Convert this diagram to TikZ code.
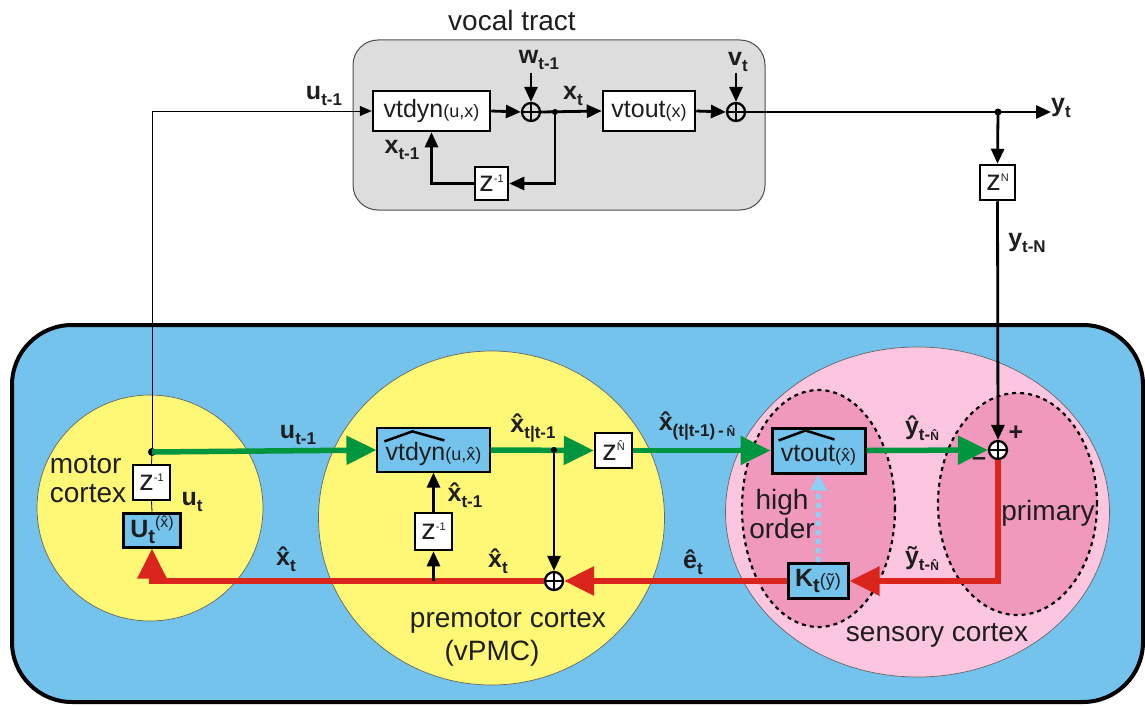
\documentclass[tikz,border=0pt]{standalone}
\usepackage{fontspec}
\setmainfont{Liberation Sans}
\usetikzlibrary{arrows.meta}
\definecolor{vtgray}{RGB}{221,221,221}
\definecolor{mblue}{RGB}{116,195,237}
\definecolor{myellow}{RGB}{255,247,118}
\definecolor{mpink}{RGB}{253,198,224}
\definecolor{dpink}{RGB}{240,153,188}
\definecolor{mgreen}{RGB}{0,150,64}
\definecolor{mred}{RGB}{218,37,29}
\definecolor{lblue}{RGB}{140,208,245}
\definecolor{txt}{RGB}{30,30,30}
\newcommand{\varlab}[2]{\textbf{#1\raisebox{-0.45ex}{\fontsize{17}{17}\selectfont #2}}}
\newcommand{\smallfn}{\fontsize{18}{18}\selectfont}
\newcommand{\tinyfn}{\fontsize{11}{11}\selectfont}
\newcommand{\regfn}{\fontsize{28}{32}\selectfont}
\newcommand{\zdel}[1]{{\fontsize{29}{29}\selectfont z\raisebox{0.6ex}{\tinyfn #1}}}
\begin{document}
\begin{tikzpicture}[x=1pt,y=-1pt,
  every node/.style={font=\fontsize{25}{30}\selectfont, text=txt},
  blk/.style={line width=2.8pt, -{Triangle[length=15pt,width=13pt]}},
  thinarr/.style={line width=0.8pt, -{Triangle[length=12pt,width=10pt]}},
  grn/.style={draw=mgreen, line width=5.5pt, -{Triangle[length=30pt,width=28pt]}},
  rd/.style={draw=mred, line width=6pt, -{Triangle[length=30pt,width=28pt]}},
  zbox/.style={draw, line width=2.5pt, fill=white, inner sep=0pt},
  wbox/.style={draw, line width=2.5pt, fill=white, inner sep=0pt},
  bbox/.style={draw, line width=1.2pt, fill=mblue, inner sep=0pt},
  kbox/.style={draw, line width=3pt, fill=mblue, inner sep=0pt},
  sumn/.style={circle, draw, line width=2.3pt, fill=white, minimum size=18pt, inner sep=0pt,
    path picture={\draw[line width=2.3pt] (path picture bounding box.north) -- (path picture bounding box.south)
      (path picture bounding box.west) -- (path picture bounding box.east);}},
  jdot/.style={circle, fill, inner sep=0pt, minimum size=8pt},
  lab/.style={inner sep=1pt},
  reg/.style={inner sep=1pt, font=\regfn},
]
\useasboundingbox (0,0) rectangle (1145,706);

% ---------------- vocal tract ----------------
\draw[draw=black!70, line width=1pt, fill=vtgray, rounded corners=25pt] (353,40) rectangle (765,210);
\node[reg] (vttitle) at (512,20) {vocal tract};

\node[wbox, minimum width=117pt, minimum height=40pt] (vtdyn) at (431.5,111) {vtdyn{\smallfn(u,x)}};
\node[sumn, fill=vtgray] (s1) at (531,112) {};
\node[jdot, minimum size=6pt] (j1) at (555,112) {};
\node[wbox, minimum width=92pt, minimum height=40pt] (vtout) at (649,111) {vtout{\smallfn(x)}};
\node[sumn, fill=vtgray] (s2) at (736,112) {};
\node[zbox, minimum width=33pt, minimum height=33pt] (zvt) at (491.5,183.5) {\zdel{-1}};

\node[lab] (wlab) at (539,60) {\varlab{w}{t-1}};
\coordinate (wtop) at (531,73);
\node[lab] (vlab) at (738,62) {\varlab{v}{t}};
\coordinate (vtop) at (736,73);
\node[lab] (xtlab) at (573,96) {\varlab{x}{t}};
\node[lab] (xt1lab) at (402,150) {\varlab{x}{t-1}};
\node[lab] (ut1top) at (324,96) {\varlab{u}{t-1}};

\draw[blk] (vtdyn.east) -- (s1.west);
\draw[blk] (s1.east) -- (vtout.west);
\draw[blk] (vtout.east) -- (s2.west);
\draw[blk] (wtop) -- (s1.north);
\draw[blk] (vtop) -- (s2.north);
\draw[blk] (j1.center) |- (zvt.east);
\draw[blk] (zvt.west) -| (vtdyn.south);

% output y_t
\node[jdot, minimum size=7pt] (j2) at (998,112) {};
\coordinate (yend) at (1051,112);
\draw[blk] (s2.east) -- (yend);
\node[anchor=base west, inner sep=1pt] (ytlab) at (1050,112) {\varlab{y}{t}};
\node[zbox, minimum width=35pt, minimum height=35pt] (zN) at (997.5,182.5) {\zdel{N}};
\draw[blk] (j2.center) -- (zN.north);
\node[lab] (ytNlab) at (1027,243) {\varlab{y}{t-N}};

% ---------------- brain area ----------------
\draw[line width=4pt, fill=mblue, rounded corners=60pt] (12,325) rectangle (1143,702);

\draw[draw=black!60, line width=0.7pt, fill=myellow] (150,508) circle (113pt);
\draw[draw=black!60, line width=0.7pt, fill=myellow] (491.5,518) ellipse [x radius=173pt, y radius=167pt];
\draw[draw=black!60, line width=0.7pt, fill=mpink] (917.5,512) ellipse [x radius=192pt, y radius=165pt];
\draw[line width=2.2pt, dash pattern=on 4pt off 4pt, fill=dpink] (818.5,508.5) ellipse [x radius=76.5pt, y radius=118.5pt];
\draw[line width=2.2pt, dash pattern=on 4pt off 4pt, fill=dpink] (1017.5,504) ellipse [x radius=79.5pt, y radius=111pt];

% region labels
\node[reg, align=left] (motorlab) at (88,479) {motor\\[-3pt]cortex};
\node[reg] (pmlab1) at (508,621) {premotor cortex};
\node[reg] (pmlab2) at (492,653) {(vPMC)};
\node[reg] (senslab) at (937,635) {sensory cortex};
\node[reg, align=center] (hilab) at (782,514) {high\\[-3pt]order};
\node[reg] (primlab) at (1048,513) {primary};

% motor cortex
\node[jdot] (jm) at (152,452) {};
\node[zbox, minimum width=37pt, minimum height=35pt] (zm) at (151.5,482.5) {\zdel{-1}};
\node[kbox, minimum width=57pt, minimum height=34pt] (Ut) at (152,530)
  {\textbf{U\raisebox{-0.5ex}{\fontsize{20}{20}\selectfont t}}\raisebox{0.7ex}{\fontsize{16}{16}\selectfont(\^x)}};
\node[lab] (utlab) at (192,502) {\varlab{u}{t}};
\draw[line width=0.8pt] (jm.center) -- (zm.north);
\draw[line width=0.8pt] (zm.south) -- (Ut.north);
\draw[thinarr] (jm.center) |- (vtdyn.west);

% premotor cortex
\node[bbox, minimum width=113pt, minimum height=44pt, text height=26pt, text depth=5pt] (vtdynh) at (433.5,450)
  {vtdyn{\smallfn(u,\^x)}};
\draw[line width=2.5pt] ([shift={(8,14)}]vtdynh.north west) -- ([shift={(36,4)}]vtdynh.north west) -- ([shift={(68,13)}]vtdynh.north west);
\node[zbox, minimum width=37pt, minimum height=37pt] (zp) at (433.5,531.5) {\zdel{-1}};
\node[zbox, minimum width=37pt, minimum height=35pt] (zNh) at (613.5,450.5) {\zdel{\^N}};
\node[jdot, minimum size=6pt] (jp) at (554,450) {};
\node[sumn] (s4) at (554,581) {};
\coordinate (rp) at (433.5,581);

% sensory cortex
\node[kbox, minimum width=93pt, minimum height=45pt, text height=26pt, text depth=5pt] (vtouth) at (818.5,450.5)
  {vtout{\smallfn(\^x)}};
\draw[line width=2.5pt] ([shift={(8,14)}]vtouth.north west) -- ([shift={(35,4)}]vtouth.north west) -- ([shift={(64,13)}]vtouth.north west);
\node[kbox, minimum width=60pt, minimum height=35pt] (Kt) at (818,581)
  {\textbf{K\raisebox{-0.5ex}{\fontsize{20}{20}\selectfont t}}{\fontsize{18}{18}\selectfont(\~y)}};
\node[sumn] (s3) at (998,450) {};

% labels on bottom
\node[lab] (ut1lab) at (298,435) {\varlab{u}{t-1}};
\node[lab] (xhmlab) at (286,559) {\varlab{\^x}{t}};
\node[lab] (xttlab) at (533,428) {\varlab{\^x}{t|t-1}};
\node[lab] (xhm1lab) at (465,495) {\varlab{\^x}{t-1}};
\node[lab] (xhplab) at (498,561) {\varlab{\^x}{t}};
\node[lab] (etlab) at (693,562) {\varlab{\^e}{t}};
\node[lab] (xNlab) at (697,426) {\varlab{\^x}{(t|t-1)\,-\,{\fontsize{12}{12}\selectfont\^N}}};
\node[lab] (yhlab) at (922,428) {\varlab{\^y}{t-{\fontsize{12}{12}\selectfont\^N}}};
\node[lab] (ytilab) at (922,559) {\varlab{\~y}{t-{\fontsize{12}{12}\selectfont\^N}}};
\node[lab] (plus) at (1016,433) {\textbf{+}};
\node[lab] (minus) at (979,462) {\textbf{--}};

% connectors bottom
\draw[grn] (jm.center) -- (vtdynh.west);
\draw[grn] (vtdynh.east) -- (zNh.west);
\draw[grn] (zNh.east) -- (vtouth.west);
\draw[grn] (vtouth.east) -- (s3.west);
\draw[blk] (jp.center) -- (s4.north);
\draw[blk] (zp.north) -- (vtdynh.south);
\draw[blk] (zN.south) -- (s3.north);
\draw[rd] (s3.south) |- (Kt.east);
\draw[rd] (Kt.west) -- (s4.east);
\draw[rd] (s4.west) -| (Ut.south);
\draw[blk] (rp) -- (zp.south);
\draw[draw=lblue, line width=5pt, dash pattern=on 5pt off 4pt, -{Triangle[length=16pt,width=16pt]}] (Kt.north) -- (vtouth.south);
\node[jdot, minimum size=6pt] at (jp) {};
\end{tikzpicture}
\end{document}
